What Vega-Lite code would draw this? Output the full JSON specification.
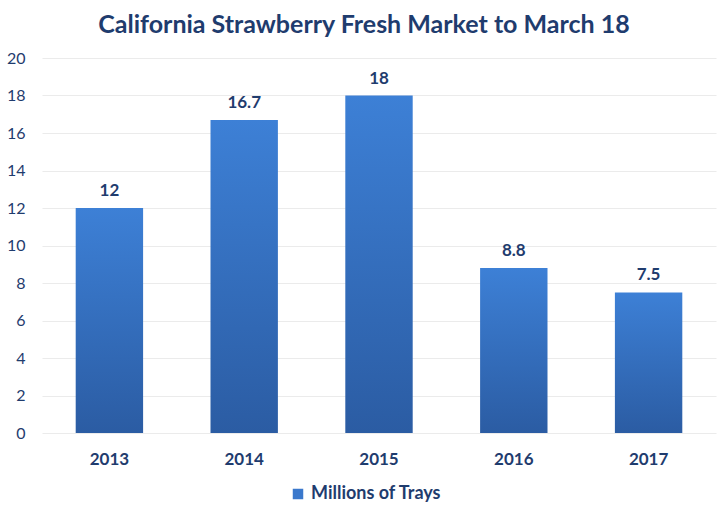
{
  "$schema": "https://vega.github.io/schema/vega-lite/v6.json",
  "width": 674,
  "height": 375,
  "autosize": {"type": "none"},
  "padding": {"left": 42, "top": 58, "right": 12, "bottom": 81},
  "background": "white",
  "title": {
    "text": "California Strawberry Fresh Market to March 18",
    "font": "Lato",
    "fontSize": 25,
    "fontWeight": "bold",
    "color": "#1f3c6e",
    "anchor": "middle",
    "dx": -15,
    "offset": 12
  },
  "config": {
    "view": {"stroke": null},
    "font": "Lato"
  },
  "data": {
    "values": [
      {"year": "2013", "trays": 12},
      {"year": "2014", "trays": 16.7},
      {"year": "2015", "trays": 18},
      {"year": "2016", "trays": 8.8},
      {"year": "2017", "trays": 7.5}
    ]
  },
  "encoding": {
    "x": {
      "field": "year",
      "type": "nominal",
      "title": null,
      "scale": {"paddingInner": 0.5, "paddingOuter": 0.25},
      "axis": {
        "labelAngle": 0,
        "labelFont": "Lato",
        "labelFontSize": 17,
        "labelFontWeight": "bold",
        "labelColor": "#1f3c6e",
        "labelPadding": 18,
        "ticks": false,
        "domain": false
      }
    },
    "y": {
      "field": "trays",
      "type": "quantitative",
      "title": null,
      "scale": {"domain": [0, 20]},
      "axis": {
        "values": [0, 2, 4, 6, 8, 10, 12, 14, 16, 18, 20],
        "labelFont": "Lato",
        "labelFontSize": 16,
        "labelColor": "#1f3c6e",
        "labelPadding": 17,
        "ticks": false,
        "domain": false,
        "grid": true,
        "gridColor": "#ebebeb",
        "gridWidth": 1
      }
    }
  },
  "layer": [
    {
      "mark": {
        "type": "bar",
        "fill": {
          "gradient": "linear",
          "x1": 0, "y1": 0, "x2": 0, "y2": 1,
          "stops": [
            {"offset": 0, "color": "#3d80d6"},
            {"offset": 1, "color": "#2b5ca3"}
          ]
        }
      }
    },
    {
      "mark": {
        "type": "text",
        "baseline": "bottom",
        "dy": -8,
        "font": "Lato",
        "fontSize": 17,
        "fontWeight": "bold",
        "color": "#1f3c6e"
      },
      "encoding": {
        "text": {"field": "trays", "type": "quantitative"}
      }
    },
    {
      "mark": {"type": "point", "filled": true, "opacity": 0, "size": 1},
      "encoding": {
        "color": {
          "datum": "Millions of Trays",
          "scale": {"range": ["#3a78cc"]},
          "legend": {
            "title": null,
            "orient": "none",
            "legendX": 247,
            "legendY": 427,
            "direction": "horizontal",
            "symbolType": "square",
            "symbolOpacity": 1,
            "symbolSize": 110,
            "labelFont": "Lato",
            "labelFontSize": 18,
            "labelFontWeight": "bold",
            "labelColor": "#1f3c6e"
          }
        }
      }
    }
  ]
}
